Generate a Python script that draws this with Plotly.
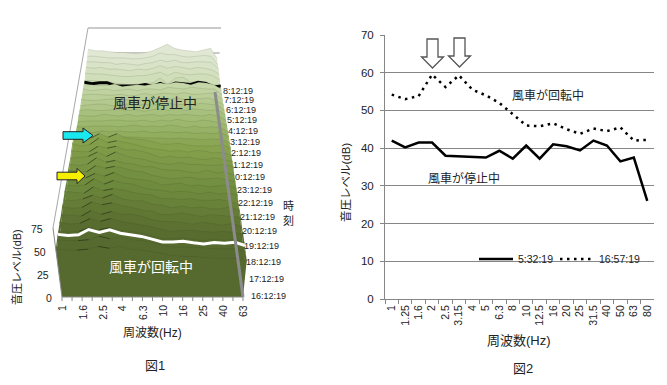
import plotly.graph_objects as go

# ---------- Figure 2 data ----------
freq_fig2 = ["1","1.25","1.6","2","2.5","3.15","4","5","6.3","8","10","12.5","16","20","25","31.5","40","50","63","80"]
stopped_532 = [42,40.2,41.5,41.5,38,37.8,37.6,37.5,39.3,37.2,40.7,37.2,41,40.5,39.4,42,40.7,36.5,37.5,26]
rotating_1657 = [54.2,53,53.8,59.5,56.2,59.3,55.5,54,52,49,46,45.8,46.6,45,43.8,45.2,44.5,45.5,42,42.2]

# ---------- Figure 1 data (waterfall, one row per time slice, 1..63 Hz) ----------
freq_fig1 = freq_fig2[:19]
freq_fig1_labels = ["1","1.6","2.5","4","6.3","10","16","25","40","63"]
hour_labels = ["16:12:19","17:12:19","18:12:19","19:12:19","20:12:19","21:12:19","22:12:19","23:12:19",
               "0:12:19","1:12:19","2:12:19","3:12:19","4:12:19","5:12:19","6:12:19","7:12:19","8:12:19"]
level_ticks = [0,25,50,75]
slice_times = ["16:12:19","16:42:19","16:57:19","17:12:19","17:42:19","18:12:19","18:42:19","19:12:19","19:42:19",
               "20:12:19","20:42:19","21:12:19","21:42:19","22:12:19","22:42:19","23:12:19","23:42:19",
               "0:12:19","0:42:19","1:12:19","1:42:19","2:12:19","2:42:19","3:12:19","3:42:19","4:12:19","4:42:19",
               "5:12:19","5:32:19","5:42:19","6:12:19","6:42:19","7:12:19","7:42:19","8:12:19"]
slice_levels = [
 [52,51,51,52,55,53,55,52,51,49,47,45,44,44,43,42,42,42,40],
 [53,52,52,53,57,54,56,53,52,50,47,45,45,45,44,43,43,43,40],
 rotating_1657[:19],
 [53,52,53,57,55,57,54,53,51,48,45,45,46,44,43,44,43,44,41],
 [54,52,53,58,55,58,55,53,51,49,46,44,45,45,44,43,44,43,41],
 [53,53,52,58,54,57,54,54,52,48,46,46,45,43,45,44,42,44,40],
 [54,52,53,59,56,58,55,53,50,49,45,45,47,45,43,45,44,43,42],
 [53,52,54,58,55,59,54,52,52,48,47,44,46,44,45,43,43,45,41],
 [54,53,52,59,55,57,56,53,51,50,46,46,45,46,44,44,45,43,40],
 [53,52,53,60,54,58,55,54,50,48,47,45,46,45,43,45,43,44,42],
 [52,53,53,58,55,59,54,52,51,49,45,46,47,44,45,43,44,45,41],
 [54,52,52,59,56,58,56,53,52,48,46,44,45,46,44,44,45,43,41],
 [53,51,53,60,55,57,54,53,50,50,47,46,46,44,43,46,43,44,40],
 [52,53,54,59,54,59,55,52,51,48,46,45,47,45,45,44,44,45,42],
 [53,52,52,58,56,58,54,54,52,49,45,47,45,46,44,43,45,43,41],
 [54,51,53,60,55,57,55,53,50,48,47,45,46,44,46,45,43,44,40],
 [52,52,53,58,54,58,53,52,51,49,46,46,47,45,44,44,44,45,42],
 [47,46,46,47,47,47,47,47,46,46,46,45,46,45,45,44,45,44,41],
 [46,46,45,47,46,47,46,46,47,45,46,46,45,46,44,45,44,45,41],
 [45,45,46,46,46,45,46,47,45,46,45,47,46,44,46,44,45,44,40],
 [44,45,45,45,46,46,45,45,46,44,46,45,47,45,44,46,45,43,40],
 [45,44,44,46,45,44,46,44,45,46,44,46,45,46,45,44,46,44,39],
 [44,45,44,44,45,45,44,45,43,45,46,44,46,44,46,45,44,45,39],
 [43,44,45,45,43,44,45,43,45,44,45,46,44,45,44,46,45,44,38],
 [44,43,43,44,45,43,44,44,43,45,44,44,46,44,45,45,46,43,38],
 [43,44,44,43,43,44,42,43,45,43,45,45,44,46,44,44,45,45,37],
 [44,42,43,44,42,43,44,42,44,44,43,46,45,44,46,45,44,44,37],
 [43,43,42,42,44,41,42,43,42,44,45,44,46,45,43,46,45,43,38],
 stopped_532[:19],
 [42,42,41,41,39,38,37,38,39,39.5,45,38,45,46,40,41,41,37,36],
 [45,44,44,43,42,41,41,42,42,44,46,42,46,44,43,44,44,42,37],
 [46,45,46,44,44,43,42,44,43,45,48,45,47,46,44,46,45,43,38],
 [47,47,46,46,44,45,44,43,45,46,49,47,49,46,46,47,47,46,39],
 [48,48,47,46,46,46,45,45,46,48,52,50,50,48,47,48,49,48,38],
 [51,49,49,48,47,47,46,46,47,49,53,57,52,50,49,48,50,52,40],
]

# ---------- projection of the perspective chart ----------
K = 0.38
C_STOPS = [(0,(86,106,48)),(1.5,(88,108,48)),(4,(108,136,60)),(7.5,(134,162,78)),(9.5,(156,184,110)),
           (12,(186,206,152)),(14,(208,222,186)),(16,(224,232,212))]

def hours(t):
    h, m, s = map(int, t.split(":"))
    v = h + m/60 + s/3600 - (16 + 12/60 + 19/3600)
    return v + 24 if v < 0 else v

def depth(d):
    t = d/16
    return t*(1+K)/(1+K*t)

def project(i, d, z):
    f = depth(d)
    u = i/18
    xl = 62 + 28*f
    xr = 243 - 28*f
    y0 = 297 - 205*f
    lean_l = (9 - 6*f)*z/75
    lean_r = (7 - 3*f)*z/75
    x = xl + u*(xr-xl) - (1-u)*lean_l + u*lean_r
    y = y0 - z*(0.92 - 0.08*f)
    return x, y

def color(d):
    for (a, ca), (b, cb) in zip(C_STOPS, C_STOPS[1:]):
        if d <= b:
            w = (d-a)/(b-a)
            return "rgb(%d,%d,%d)" % tuple(ca[k]+(cb[k]-ca[k])*w for k in range(3))
    return "rgb(224,232,212)"

fig = go.Figure()
OV = dict(xaxis="x", yaxis="y", showlegend=False, hoverinfo="skip")

# back walls
GRID3D = "#b9b9b9"
wall_z = [50, 75]
for z in wall_z:
    x0, y0 = project(0, 16, z)
    x1, y1 = project(18, 16, z)
    fig.add_trace(go.Scatter(x=[x0+1, x1+2], y=[y0+ (3 if z==50 else -1)]*2, mode="lines", line=dict(color=GRID3D, width=1.5), **OV))
xw0, yw0 = project(0, 16, 75)
xw1, yw1 = project(0, 0, 75)
fig.add_trace(go.Scatter(x=[xw0+1, xw1], y=[yw0-1, yw1], mode="lines", line=dict(color="#a8a8a8", width=1), **OV))

# slices, back to front
order = sorted(zip(slice_times, slice_levels), key=lambda r: -hours(r[0]))
prev = None
for t, lv in order:
    d = hours(t)
    pts = [project(i, d, v) for i, v in enumerate(lv)]
    bl = project(0, d, 0)
    br = project(18, d, 0)
    xs = [bl[0]] + [p[0] for p in pts] + [br[0], bl[0]]
    ys = [bl[1]] + [p[1] for p in pts] + [br[1], bl[1]]
    if prev:
        # close the side gaps between this slice and the one behind it
        for tl, tl2, b2 in ((pts[0], prev[0][0], prev[1]), (pts[-1], prev[0][-1], prev[2])):
            fig.add_trace(go.Scatter(x=[tl[0], tl2[0], b2[0], tl[0]], y=[tl[1], tl2[1], b2[1], tl[1]], mode="lines",
                                     fill="toself", fillcolor=color(d), line=dict(color="rgba(0,0,0,0)", width=0), **OV))
    fig.add_trace(go.Scatter(x=xs, y=ys, mode="lines", fill="toself", fillcolor=color(d),
                             line=dict(color="rgba(0,0,0,0)", width=0), **OV))
    prev = (pts, bl, br)
    if t == "5:32:19":
        style = dict(color="black", width=3)
    elif t == "16:57:19":
        style = dict(color="white", width=3)
    else:
        style = dict(color="rgba(40,50,20,0.17)", width=0.7)
    fig.add_trace(go.Scatter(x=[p[0] for p in pts], y=[p[1] for p in pts], mode="lines", line=style, **OV))
    # dark hatching on the rising flank of the two low-frequency ridges while rotating
    if d < 7.6 and t != "16:57:19":
        hx, hy = [], []
        for a in (2, 4):
            hx += [pts[a][0], pts[a+1][0], None]
            hy += [pts[a][1], pts[a+1][1], None]
        fig.add_trace(go.Scatter(x=hx, y=hy, mode="lines", line=dict(color="rgba(30,40,15,0.6)", width=0.9), **OV))

# right base edge (grey) and front axis
ge = [project(18, hours(t), 0) for t in (hour_labels[0], hour_labels[-1])]
fig.add_trace(go.Scatter(x=[g[0] for g in ge], y=[g[1] for g in ge], mode="lines",
                         line=dict(color="#8c8c8c", width=3), **OV))
ax = [project(0, 0, 0), project(0, 0, 75)]
fig.add_trace(go.Scatter(x=[a[0] for a in ax], y=[a[1] for a in ax], mode="lines",
                         line=dict(color="#888888", width=1), **OV))
tx, ty = [], []
for i in range(19):
    p = project(i, 0, 0)
    tx += [p[0], p[0], None]
    ty += [p[1], p[1]+4, None]
base = [project(0, 0, 0), project(18, 0, 0)]
tx += [base[0][0], base[1][0]]
ty += [base[0][1], base[1][1]]
fig.add_trace(go.Scatter(x=tx, y=ty, mode="lines", line=dict(color="#888888", width=1), **OV))

# Figure 2 lines
fig.add_trace(go.Scatter(x=freq_fig2, y=stopped_532, mode="lines", name="5:32:19", xaxis="x2", yaxis="y2",
                         legend="legend", line=dict(color="black", width=2.5), hoverinfo="skip"))
fig.add_trace(go.Scatter(x=freq_fig2, y=rotating_1657, mode="lines", name="16:57:19", xaxis="x2", yaxis="y2",
                         legend="legend2", line=dict(color="black", width=2.5, dash="2.5px,4.5px"), hoverinfo="skip"))

LAT = "Liberation Sans"
CJK = "Liberation Sans, Noto Sans CJK JP"
TXT = "#222222"
ann = []
def note(text, x, y, size=12, col=TXT, fam=CJK, xa="center", ya="middle", ang=0):
    ann.append(dict(text=text, x=x, y=y, xref="x", yref="y", showarrow=False, xanchor=xa, yanchor=ya,
                    textangle=ang, font=dict(family=fam, size=size, color=col)))

# Figure 1 texts
note("風車が停止中", 155, 103, 14)
note("風車が回転中", 151, 267, 14, "white")
note("音圧レベル(dB)", 16, 267, 11, ang=-90)
note("周波数(Hz)", 152, 332, 12)
note("図1", 155, 365, 13)
note("時", 288, 206, 11)
note("刻", 288, 220, 11)
for lab in level_ticks:
    p = project(0, 0, lab)
    note(str(lab), p[0]-8, p[1]+1, 10.5, fam=LAT, xa="right")
for lab in hour_labels:
    p = project(18, hours(lab), 0)
    note(lab, p[0]+6, p[1]-1, 9, fam=LAT, xa="left")
for lab in freq_fig1_labels:
    p = project(freq_fig1.index(lab), 0, 0)
    note(lab, p[0], p[1]+6, 10.5, fam=LAT, ya="top", ang=-90)

# Figure 2 texts
note("風車が回転中", 548, 95, 12)
note("風車が停止中", 464, 178, 12)
note("音圧レベル(dB)", 345, 183, 11.5, ang=-90)
note("周波数(Hz)", 519, 340, 13)
note("図2", 523, 368, 13)

def block_arrow_right(x0, xs, xt, yc, hs, hh, fill):
    return dict(type="path", xref="x", yref="y", fillcolor=fill, line=dict(color="#222222", width=1),
                path=f"M{x0},{yc-hs} L{xs},{yc-hs} L{xs},{yc-hh} L{xt},{yc} L{xs},{yc+hh} L{xs},{yc+hs} L{x0},{yc+hs} Z")

def block_arrow_down(xc, ytop, ys, yt, hs, hh):
    return dict(type="path", xref="x", yref="y", fillcolor="white", line=dict(color="#555555", width=1.3),
                path=f"M{xc-hs},{ytop} L{xc+hs},{ytop} L{xc+hs},{ys} L{xc+hh},{ys} L{xc},{yt} L{xc-hh},{ys} L{xc-hs},{ys} Z")

shapes = [
    block_arrow_right(63, 83, 93, 135.5, 3.8, 7.5, "#19e8ee"),
    block_arrow_right(57, 77, 85, 176, 3.8, 7.5, "#f4f000"),
    block_arrow_down(432.5, 39, 57, 68, 5.5, 11),
    block_arrow_down(459.5, 38, 56, 67, 5.5, 11),
]

GRID = "#868686"
LEG = dict(orientation="h", yanchor="middle", bgcolor="rgba(0,0,0,0)",
           font=dict(size=10.5, color=TXT, family=LAT), itemwidth=34, xanchor="left", y=1-259/385)
fig.update_layout(
    width=667, height=385, margin=dict(l=0, r=0, t=0, b=0, autoexpand=False),
    paper_bgcolor="white", plot_bgcolor="rgba(0,0,0,0)",
    font=dict(family=LAT, size=12, color=TXT),
    xaxis=dict(domain=[0, 1], range=[0, 667], visible=False, fixedrange=True),
    yaxis=dict(domain=[0, 1], range=[385, 0], visible=False, fixedrange=True),
    xaxis2=dict(domain=[385/667, 654/667], anchor="y2", type="category", categoryorder="array",
                categoryarray=freq_fig2, tickson="boundaries", ticks="outside", ticklen=4, tickcolor=GRID,
                showline=True, linecolor=GRID, showgrid=False, tickangle=-90, tickfont=dict(size=10.5),
                tickmode="linear", tick0=0, dtick=1, range=[-0.5, 19.5], ticklabelstandoff=1),
    yaxis2=dict(domain=[1-299/385, 1-35/385], anchor="x2", range=[0, 70], dtick=10, showgrid=True,
                gridcolor=GRID, gridwidth=1, showline=True, linecolor=GRID, ticks="outside", ticklen=4,
                tickcolor=GRID, tickfont=dict(size=11.5), zeroline=False, ticklabelstandoff=4),
    showlegend=True,
    legend=dict(x=474/667, **LEG),
    legend2=dict(x=555/667, **LEG),
    annotations=ann, shapes=shapes,
)
fig.write_html("out.html", config=dict(displayModeBar=False), post_script="document.body.style.margin='0';")
